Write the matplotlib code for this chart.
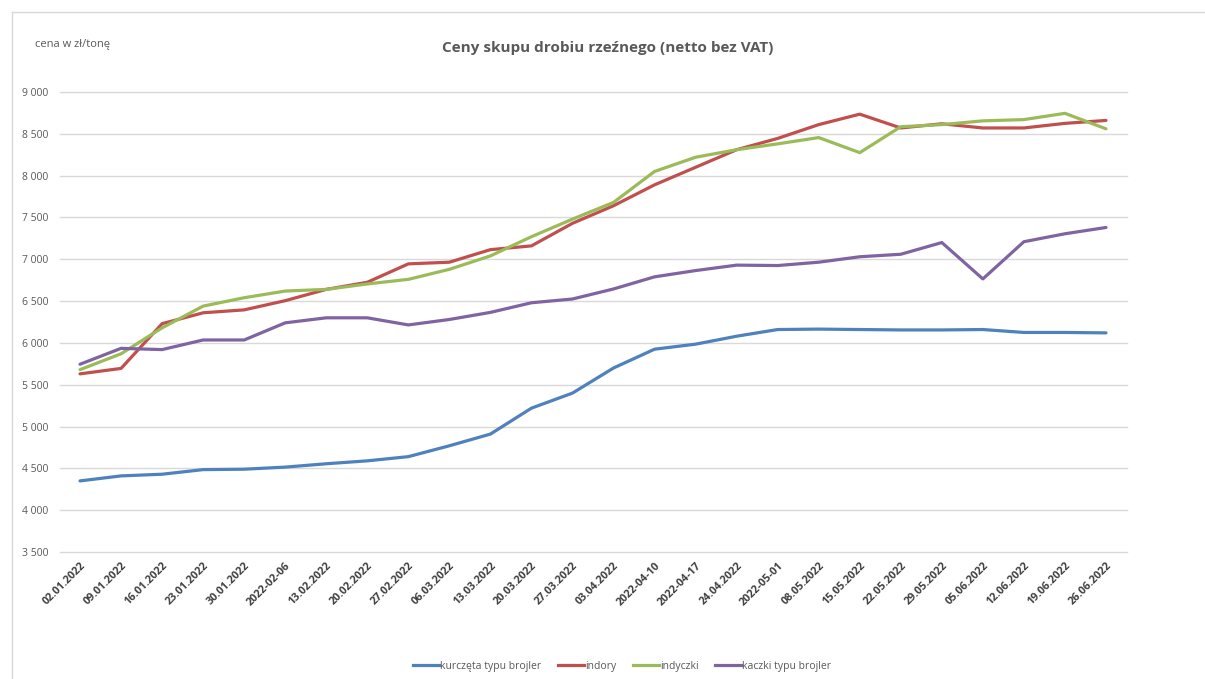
import matplotlib.pyplot as plt
from matplotlib.lines import Line2D

plt.rcParams['font.family'] = ['Open Sans', 'DejaVu Sans']

# daty notowań (etykiety osi X jak w oryginale)
daty = ["02.01.2022", "09.01.2022", "16.01.2022", "23.01.2022", "30.01.2022",
        "2022-02-06", "13.02.2022", "20.02.2022", "27.02.2022", "06.03.2022",
        "13.03.2022", "20.03.2022", "27.03.2022", "03.04.2022", "2022-04-10",
        "2022-04-17", "24.04.2022", "2022-05-01", "08.05.2022", "15.05.2022",
        "22.05.2022", "29.05.2022", "05.06.2022", "12.06.2022", "19.06.2022",
        "26.06.2022"]

# ceny w zł/tonę
kurczeta = [4350, 4410, 4430, 4485, 4490, 4515, 4555, 4590, 4640, 4770,
            4910, 5220, 5400, 5700, 5925, 5985, 6080, 6160, 6165, 6160,
            6155, 6155, 6160, 6125, 6125, 6120]
indory = [5630, 5695, 6230, 6360, 6395, 6505, 6640, 6725, 6945, 6965,
          7115, 7160, 7430, 7640, 7890, 8100, 8310, 8445, 8610, 8735,
          8570, 8620, 8570, 8570, 8625, 8660]
indyczki = [5680, 5870, 6180, 6440, 6540, 6620, 6640, 6705, 6760, 6880,
            7040, 7270, 7480, 7680, 8050, 8220, 8310, 8380, 8455, 8275,
            8585, 8610, 8655, 8670, 8745, 8560]
kaczki = [5745, 5935, 5920, 6035, 6035, 6240, 6300, 6300, 6215, 6280,
          6365, 6480, 6525, 6645, 6790, 6865, 6930, 6925, 6965, 7030,
          7060, 7200, 6765, 7210, 7305, 7380]

serie = ["kurczęta typu brojler", "indory", "indyczki", "kaczki typu brojler"]
kolory = ["#4F81BD", "#C0504D", "#9BBB59", "#8064A2"]

fig = plt.figure(figsize=(12.05, 6.79), dpi=100)
ax = fig.add_axes([59.5 / 1205, 1 - 552 / 679, 1067 / 1205, 460 / 679])

x = list(range(len(daty)))
for dane, kolor in zip([kurczeta, indory, indyczki, kaczki], kolory):
    ax.plot(x, dane, color=kolor, linewidth=2.3, solid_capstyle='round')

ax.set_xlim(-0.5, len(daty) - 0.5)
ax.set_ylim(3500, 9000)
ax.set_yticks(range(3500, 9001, 500))
ax.set_yticklabels([f"{v:,}".replace(",", " ") for v in range(3500, 9001, 500)],
                   fontsize=7.5, color="#595959")
ax.set_xticks(x)
ax.set_xticklabels(daty, rotation=45, ha='right', rotation_mode='anchor',
                   fontsize=7.8, color="#404040", fontweight='bold')
ax.tick_params(length=0, axis='y', pad=8)
ax.tick_params(length=0, axis='x', pad=6)
ax.grid(axis='y', color="#D9D9D9", linewidth=1)
for gl in ax.get_ygridlines():
    gl.set_clip_on(False)
ax.set_axisbelow(True)
for s in ax.spines.values():
    s.set_visible(False)

# ramka wykresu
fig.add_artist(Line2D([12 / 1205, 12 / 1205], [0, 1 - 12 / 679], color="#D9D9D9", lw=1))
fig.add_artist(Line2D([12 / 1205, 1], [1 - 12 / 679, 1 - 12 / 679], color="#D9D9D9", lw=1))

fig.text(608 / 1205, 1 - 48 / 679, "Ceny skupu drobiu rzeźnego (netto bez VAT)",
         ha='center', va='center', fontsize=11, fontweight='bold', color="#595959")
fig.text(35 / 1205, 1 - 45 / 679, "cena w zł/tonę", ha='left', va='center',
         fontsize=8, color="#595959")

uchwyty = [Line2D([], [], color=k, lw=2.3) for k in kolory]
fig.legend(uchwyty, serie, loc='center', bbox_to_anchor=(622 / 1205, 1 - 666 / 679),
           ncol=4, frameon=False, fontsize=7.5, handlelength=2.5, handletextpad=0.1,
           columnspacing=1.6, labelcolor="#595959")

fig.savefig("out.png", dpi=100)
